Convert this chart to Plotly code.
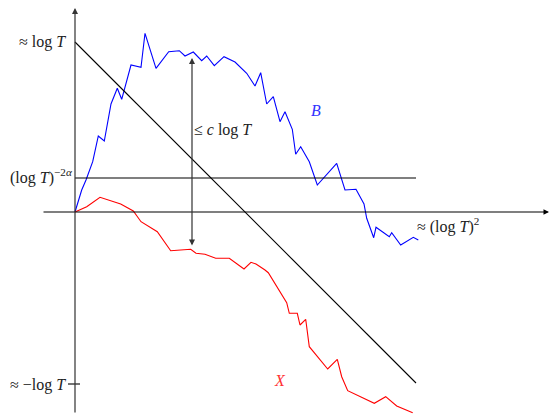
import plotly.graph_objects as go

# Coordinates: time steps (x) and heights (y); log T ~ 170 units
LOGT = 170
T_END = 341
LEVEL = 34  # (log T)^{-2 alpha}

b_t = [0, 6.7, 11, 17.7, 23.3, 29.3, 36, 42.3, 46.7, 56, 66, 70, 81, 93.7, 104.3, 110, 118.3,
       126.7, 131.7, 139.3, 149, 160, 171.7, 180, 185.7, 191.7, 198.3, 205, 210, 217.3, 220.7,
       225.7, 234.3, 242.3, 261.7, 270, 281, 289, 291.7, 298.7, 301, 314.3, 316.7, 325.7, 338.3, 343.3]
b_v = [0, 22, 32, 50.3, 76, 71, 108, 123.7, 112.7, 147, 144.7, 178.7, 143.7, 160.3, 161.3, 156, 160,
       151.3, 156, 146.3, 155.3, 150, 138.7, 126, 139.3, 108, 115.3, 90.3, 100.3, 82.7, 57.7,
       65.3, 50.3, 27, 48.7, 22, 22.7, 8, -6.3, -25.7, -15.3, -24.7, -20.7, -33, -25.3, -28]

x_t = [0, 11.7, 25, 45.7, 58.3, 66, 82.3, 95.7, 115.7, 121, 130, 140.7, 154.3, 169, 176, 181, 190,
       193.3, 211.7, 214.3, 222.3, 225, 230.7, 234.3, 252.7, 262.3, 266.7, 272.7, 299.3, 310.7, 321.7, 337.7]
x_v = [0, 5.3, 14.7, 8, 1, -9.7, -19.7, -38.7, -37.3, -41.3, -42.3, -46.3, -46.3, -57, -50.3, -52, -58,
       -60.7, -90.7, -101.3, -101.3, -113, -107.3, -134.7, -157, -147.3, -164.7, -178.7, -191.3, -184.7, -194, -200.7]

diag_t = [0, T_END]
diag_v = [LOGT, -T_END + LOGT]

arrow_t = 117
arrow_top = 154
arrow_bot = -35

FONT = "Liberation Serif"

fig = go.Figure()
fig.add_trace(go.Scatter(x=b_t, y=b_v, mode="lines", line=dict(color="#0000ff", width=1.1)))
fig.add_trace(go.Scatter(x=x_t, y=x_v, mode="lines", line=dict(color="#ff0000", width=1.1)))
fig.add_trace(go.Scatter(x=diag_t, y=diag_v, mode="lines", line=dict(color="black", width=1.1)))
fig.add_trace(go.Scatter(x=[0, T_END], y=[LEVEL, LEVEL], mode="lines", line=dict(color="black", width=1.1)))
fig.add_trace(go.Scatter(x=[-7, 5], y=[-LOGT - 2, -LOGT - 2], mode="lines", line=dict(color="black", width=1.1)))

ann = []
# axes with arrows
ann.append(dict(x=474, y=0, ax=-33, ay=0, xref="x", yref="y", axref="x", ayref="y",
                showarrow=True, arrowhead=2, arrowsize=1, arrowwidth=1.1, arrowcolor="black",
                standoff=0, text=""))
ann.append(dict(x=0, y=204, ax=0, ay=-202, xref="x", yref="y", axref="x", ayref="y",
                showarrow=True, arrowhead=2, arrowsize=1, arrowwidth=1.2, arrowcolor="#333333",
                standoff=0, text=""))
# double arrow
ann.append(dict(x=arrow_t, y=arrow_top, ax=arrow_t, ay=arrow_bot, xref="x", yref="y", axref="x", ayref="y",
                showarrow=True, arrowhead=2, startarrowhead=2, arrowside="end+start", arrowsize=1,
                arrowwidth=1.2, arrowcolor="#333333", standoff=0, startstandoff=0, text=""))

def label(x, y, text, xanchor, color="#222222", size=16):
    ann.append(dict(x=x, y=y, xref="x", yref="y", text=text, showarrow=False,
                    xanchor=xanchor, yanchor="middle", font=dict(family=FONT, size=size, color=color)))

label(-7, LOGT, "≈ log <i>T</i>", "right")
label(-7, -LOGT - 3, "≈ −log <i>T</i>", "right")
label(0, LEVEL + 2, "(log <i>T</i>)<sup>−2<i>α</i></sup>", "right")
label(340, -13, "≈ (log <i>T</i>)<sup>2</sup>", "left")
label(117, 82, "≤ <i>c</i> log <i>T</i>", "left")
label(241, 102, "<i>B</i>", "center", color="#3333ff")
label(205, -168, "<i>X</i>", "center", color="#ff3333")

fig.update_layout(
    width=551, height=414, margin=dict(l=0, r=0, t=0, b=0),
    plot_bgcolor="white", paper_bgcolor="white", showlegend=False,
    xaxis=dict(range=[-75, 476], visible=False, fixedrange=True),
    yaxis=dict(range=[-202, 212], visible=False, fixedrange=True),
    annotations=ann,
)
fig.write_html("out.html", config={"displayModeBar": False, "staticPlot": True},
               post_script="document.body.style.margin='0';document.body.style.overflow='hidden';")
